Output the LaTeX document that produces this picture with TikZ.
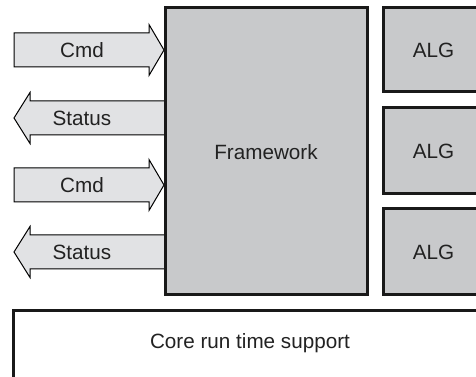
\documentclass[tikz,border=0pt]{standalone}
\usepackage{fontspec}
\setmainfont{Liberation Sans}
\usetikzlibrary{positioning}
\definecolor{boxgray}{HTML}{C8C9CB}
\definecolor{arrowgray}{HTML}{E1E2E4}
\definecolor{textgray}{HTML}{222222}
\tikzset{
  arrowbox/.style={draw=black, line width=0.75pt, fill=arrowgray},
  blockbox/.style={draw=black!90, line width=2.25pt, fill=boxgray},
  corebox/.style={draw=black!90, line width=2.25pt, fill=white},
  boxlabel/.style={inner sep=0pt, text=textgray, font=\fontsize{15.5}{18}\selectfont}
}
\newcommand{\cmdarrow}[3]{ % #1: y of midline, #2: node name, #3: text
  \draw[arrowbox] (14,#1-17) -- (149,#1-17) -- (149,#1-25.5) -- (164,#1) -- (149,#1+25.5) -- (149,#1+17) -- (14,#1+17) -- cycle;
  \node[boxlabel] (#2) at (82,#1) {#3};
}
\newcommand{\statusarrow}[3]{ % #1: y of midline, #2: node name, #3: text
  \draw[arrowbox] (166,#1-17) -- (30,#1-17) -- (30,#1-25.5) -- (14,#1) -- (30,#1+25.5) -- (30,#1+17) -- (166,#1+17) -- cycle;
  \node[boxlabel] (#2) at (82,#1) {#3};
}

\begin{document}
\begin{tikzpicture}[x=0.75pt,y=-0.75pt]
\useasboundingbox (0,0) rectangle (476,377);
\clip (0,0) rectangle (476,377);

% Cmd / Status arrows on the left
\cmdarrow{50}{cmdA}{Cmd}
\statusarrow{118}{statusA}{Status}
\cmdarrow{185}{cmdB}{Cmd}
\statusarrow{252}{statusB}{Status}

% Framework block
\draw[blockbox] (165,8) rectangle (367,295);
\node[boxlabel] (framework) at (266,152) {Framework};

% ALG blocks, cut off at the right edge
\draw[blockbox] (383,8) rectangle (484,92);
\node[boxlabel] (algA) at (433.5,50) {ALG};
\draw[blockbox] (383,108) rectangle (484,194);
\node[boxlabel] (algB) at (433.5,151) {ALG};
\draw[blockbox] (383,209) rectangle (484,295);
\node[boxlabel] (algC) at (433.5,252) {ALG};

% Core run time support, cut off at the bottom
\draw[corebox] (13,311) rectangle (487,395);
\node[boxlabel] (core) at (250,343) {Core run time support};

\end{tikzpicture}
\end{document}
